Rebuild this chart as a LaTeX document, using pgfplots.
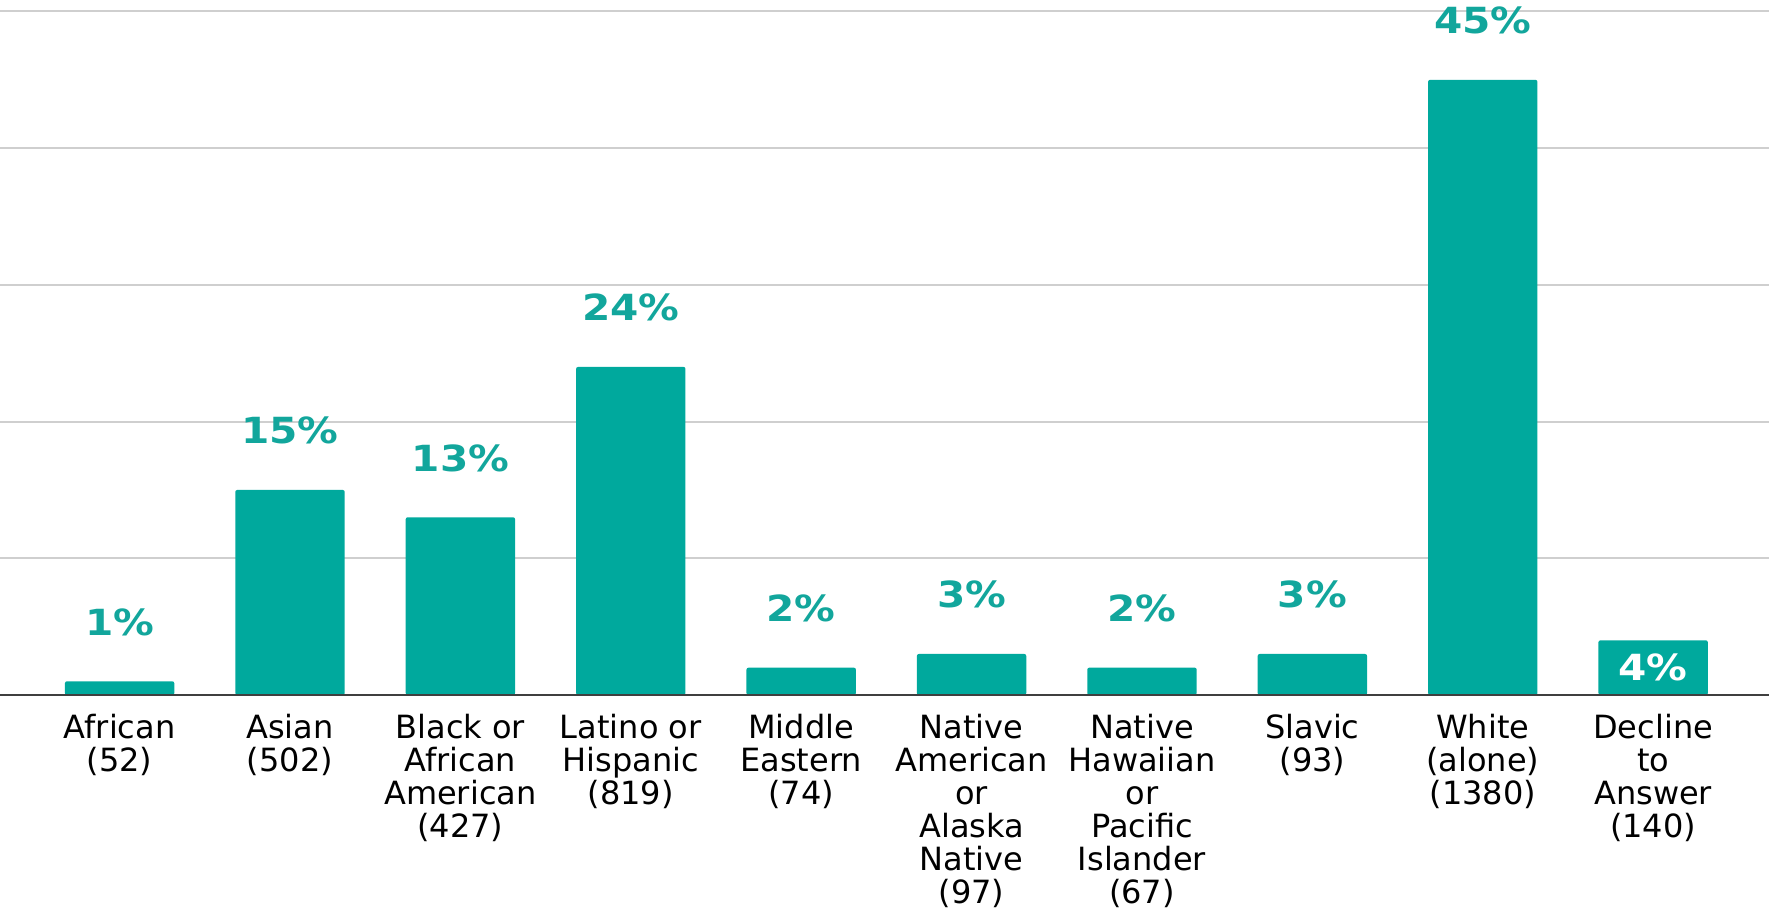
\documentclass[border=0pt]{standalone}
\usepackage{fontspec}
\setmainfont{DejaVu Sans}
\newfontfamily\pctfont{DejaVu Sans Bold}[FakeStretch=1.13]
\usepackage{pgfplots}
\pgfplotsset{compat=1.18}
\definecolor{barteal}{HTML}{00A99D}
\definecolor{labteal}{HTML}{12A69C}
\definecolor{gridgray}{HTML}{CFCFCF}
\definecolor{axisgray}{HTML}{3F3F3F}
\begin{document}
\begin{tikzpicture}
\begin{axis}[
  name=ax,
  scale only axis,
  width=884.5pt, height=347.5pt,
  xmin=-0.702, xmax=9.68,
  ymin=0, ymax=50.84,
  clip=false,
  axis line style={draw=none},
  /pgf/number format/assume math mode=true,
  xtick={0,...,9},
  xticklabels={
    {African\\(52)},
    {Asian\\(502)},
    {Black or\\African\\American\\(427)},
    {Latino or\\Hispanic\\(819)},
    {Middle\\Eastern\\(74)},
    {Native\\American\\or\\Alaska\\Native\\(97)},
    {Native\\Hawaiian\\or\\Pacific\\Islander\\(67)},
    {Slavic\\(93)},
    {White\\(alone)\\(1380)},
    {Decline\\to\\Answer\\(140)}},
  xticklabel style={align=center, anchor=north, inner sep=0pt, yshift=-9.6pt,
    font=\fontsize{16}{16.5}\selectfont, text=black},
  major tick length=0pt,
  ytick={0,10,20,30,40,50},
  yticklabels={},
  yticklabel style={inner sep=0pt, outer sep=0pt},
  ymajorgrids,
  grid style={gridgray, line width=1pt},
  nodes near coords={\pgfmathprintnumber{\pgfplotspointmeta}\%},
  point meta=y,
]
\addplot[ybar, bar width=54.7pt, fill=barteal, draw=none, rounded corners=1pt,
  nodes near coords style={font=\fontsize{18}{22}\pctfont, text=labteal, anchor=base, yshift=23pt}]
  coordinates {(0,1) (1,15) (2,13) (3,24) (4,2) (5,3) (6,2) (7,3) (8,45)};
\addplot[ybar, bar width=54.7pt, fill=barteal, draw=none, rounded corners=1pt,
  nodes near coords style={font=\fontsize{18}{22}\pctfont, text=white, anchor=base, yshift=-20pt}]
  coordinates {(9,4)};
\addplot[axisgray, line width=1.3pt, mark=none, nodes near coords={}] coordinates {(-0.702,0) (9.68,0)};
\end{axis}
\pgfresetboundingbox
\path[use as bounding box] ([yshift=-107pt]ax.south west) rectangle (ax.north east);
\end{tikzpicture}
\end{document}
